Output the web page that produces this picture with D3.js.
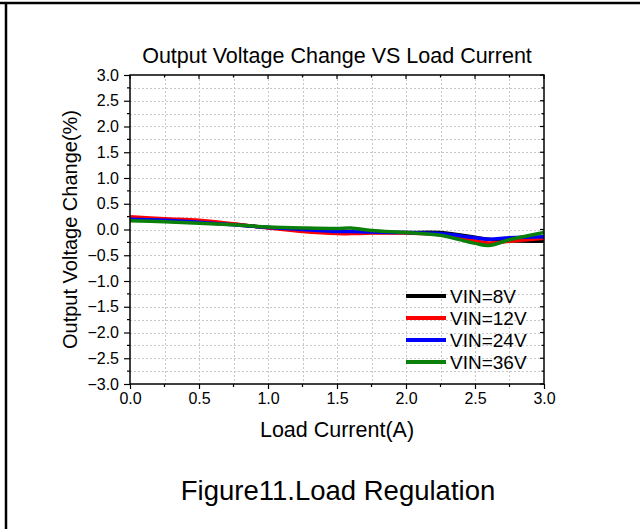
<!DOCTYPE html>
<html>
<head>
<meta charset="utf-8">
<script src="https://cdn.jsdelivr.net/npm/d3@7"></script>
<style>
  html, body { margin: 0; padding: 0; background: #fff; }
  svg { display: block; font-family: "Liberation Sans", Arial, sans-serif; }
</style>
</head>
<body>
<svg id="chart" width="640" height="529"></svg>
<script>
"use strict";

// load current (A)
const currents = [0, 0.25, 0.5, 0.75, 1.0, 1.25, 1.5, 1.6, 1.75, 2.0, 2.25, 2.5, 2.6, 2.75, 3.0];
// output voltage change (%) per input voltage
const vin8  = [0.20, 0.19, 0.15, 0.10, 0.04, 0.00, -0.06, -0.07, -0.06, -0.06, -0.06, -0.15, -0.19, -0.22, -0.23];
const vin12 = [0.25, 0.21, 0.18, 0.11, 0.03, -0.04, -0.08, -0.08, -0.07, -0.07, -0.10, -0.22, -0.26, -0.23, -0.17];
const vin24 = [0.20, 0.18, 0.14, 0.09, 0.04, 0.00, -0.04, -0.04, -0.05, -0.06, -0.08, -0.16, -0.19, -0.16, -0.14];
const vin36 = [0.17, 0.15, 0.12, 0.09, 0.05, 0.03, 0.02, 0.03, -0.02, -0.06, -0.11, -0.27, -0.31, -0.20, -0.06];

const seriesNames = ["VIN=8V", "VIN=12V", "VIN=24V", "VIN=36V"];
const seriesColors = ["#000000", "#ff0000", "#0000ff", "#0a7f0a"];
const xTicks = [0, 0.5, 1.0, 1.5, 2.0, 2.5, 3.0];
const yTicks = [3.0, 2.5, 2.0, 1.5, 1.0, 0.5, 0.0, -0.5, -1.0, -1.5, -2.0, -2.5, -3.0];

const series = [vin8, vin12, vin24, vin36].map((vals, i) => ({
    name: seriesNames[i],
    color: seriesColors[i],
    points: vals.map((v, j) => [currents[j], v])
}));

const svg = d3.select("#chart");
const plotLeft = 130, plotTop = 75, plotW = 414, plotH = 309;

// page frame (top + left rule only)
svg.append("line").attr("x1", 0).attr("x2", 640).attr("y1", 3).attr("y2", 3)
    .attr("stroke", "#000").attr("stroke-width", 2.5);
svg.append("line").attr("x1", 6).attr("x2", 6).attr("y1", 2).attr("y2", 529)
    .attr("stroke", "#000").attr("stroke-width", 2.5);

const x = d3.scaleLinear().domain([0, 3]).range([plotLeft, plotLeft + plotW]);
const y = d3.scaleLinear().domain([-3, 3]).range([plotTop + plotH, plotTop]);

const minorX = d3.range(0, 3.001, 0.25);
const minorY = d3.range(-3, 3.001, 0.25);

// grid
const grid = svg.append("g").attr("stroke", "#c8c8c8").attr("stroke-width", 1)
    .attr("stroke-dasharray", "2,2");
grid.selectAll(".gx").data(minorX.slice(1, -1)).join("line")
    .attr("x1", d => Math.round(x(d)) + 0.5).attr("x2", d => Math.round(x(d)) + 0.5)
    .attr("y1", plotTop).attr("y2", plotTop + plotH);
grid.selectAll(".gy").data(minorY.slice(1, -1)).join("line")
    .attr("y1", d => Math.round(y(d)) + 0.5).attr("y2", d => Math.round(y(d)) + 0.5)
    .attr("x1", plotLeft).attr("x2", plotLeft + plotW);

// curves
const line = d3.line()
    .x(d => x(d[0]))
    .y(d => y(d[1]))
    .curve(d3.curveCatmullRom.alpha(0.5));

svg.append("g").selectAll("path").data(series).join("path")
    .attr("d", d => line(d.points))
    .attr("fill", "none")
    .attr("stroke", d => d.color)
    .attr("stroke-width", 3.5)
    .attr("stroke-linejoin", "round");

// axes
const fmt = d3.format(".1f");
const minusFmt = d => fmt(d).replace("-", "\u2212");

const xAxis = svg.append("g").attr("transform", `translate(0,${plotTop + plotH})`)
    .call(d3.axisBottom(x).tickValues(xTicks).tickFormat(fmt).tickSize(5).tickPadding(4));
const yAxis = svg.append("g").attr("transform", `translate(${plotLeft},0)`)
    .call(d3.axisLeft(y).tickValues(yTicks).tickFormat(minusFmt).tickSize(6).tickPadding(5));
[xAxis, yAxis].forEach(a => {
    a.select(".domain").remove();
    a.selectAll("text").attr("font-size", 16).attr("fill", "#000")
        .attr("font-family", "'Liberation Sans', Arial, sans-serif");
    a.selectAll("line").attr("stroke", "#000").attr("stroke-width", 1.2);
});

// minor ticks
const minors = svg.append("g").attr("stroke", "#000").attr("stroke-width", 1.2);
minors.selectAll(".mx").data(minorX.filter(d => !xTicks.includes(d))).join("line")
    .attr("x1", d => x(d)).attr("x2", d => x(d))
    .attr("y1", plotTop + plotH).attr("y2", plotTop + plotH + 3);
minors.selectAll(".my").data(minorY.filter(d => !yTicks.includes(d))).join("line")
    .attr("y1", d => y(d)).attr("y2", d => y(d))
    .attr("x1", plotLeft).attr("x2", plotLeft - 3);
// inner ticks on top and right
minors.selectAll(".tx").data(minorX).join("line")
    .attr("x1", d => x(d)).attr("x2", d => x(d))
    .attr("y1", plotTop).attr("y2", d => plotTop + (xTicks.includes(d) ? 4 : 2.5));
minors.selectAll(".ry").data(minorY).join("line")
    .attr("y1", d => y(d)).attr("y2", d => y(d))
    .attr("x1", plotLeft + plotW).attr("x2", d => plotLeft + plotW - (yTicks.includes(d) ? 4 : 2.5));

// frame
svg.append("rect").attr("x", plotLeft).attr("y", plotTop).attr("width", plotW).attr("height", plotH)
    .attr("fill", "none").attr("stroke", "#000").attr("stroke-width", 1.5);

// titles
svg.append("text").attr("x", plotLeft + plotW / 2).attr("y", 63)
    .attr("text-anchor", "middle").attr("font-size", 21.5).text("Output Voltage Change VS Load Current");
svg.append("text").attr("x", plotLeft + plotW / 2).attr("y", 437)
    .attr("text-anchor", "middle").attr("font-size", 21.5).text("Load Current(A)");
svg.append("text").attr("transform", `translate(77,${plotTop + plotH / 2}) rotate(-90)`)
    .attr("text-anchor", "middle").attr("font-size", 20).text("Output Voltage Change(%)");
svg.append("text").attr("x", 338).attr("y", 500)
    .attr("text-anchor", "middle").attr("font-size", 27.5).text("Figure11.Load Regulation");

// legend
const legend = svg.append("g").attr("transform", "translate(406,296)");
const rows = legend.selectAll("g").data(series).join("g")
    .attr("transform", (d, i) => `translate(0,${i * 22})`);
rows.append("line").attr("x1", 0).attr("x2", 40).attr("y1", 0).attr("y2", 0)
    .attr("stroke", d => d.color).attr("stroke-width", 4);
rows.append("text").attr("x", 44).attr("y", 7).attr("font-size", 19).text(d => d.name);
</script>
</body>
</html>
